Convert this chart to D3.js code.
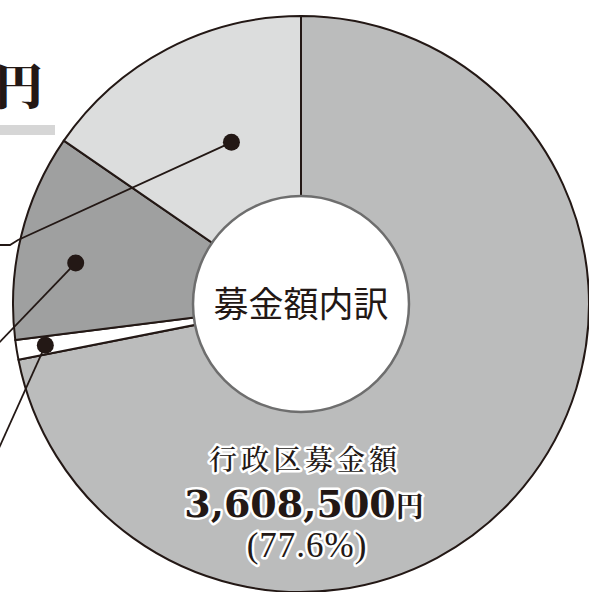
<!DOCTYPE html>
<html>
<head>
<meta charset="utf-8">
<script src="https://cdn.jsdelivr.net/npm/d3@7"></script>
<style>
  html, body { margin: 0; padding: 0; background: #fff; overflow: hidden; }
</style>
</head>
<body>
<div id="chart"></div>
<script>
const categories = ["行政区募金額", "その他", "区分B", "区分A"];
const shares = [71.9, 1.1, 11.6, 15.4];
const colors = ["#bbbcbc", "#ffffff", "#9fa0a0", "#dcdddd"];

// big slice label texts
const mainLabel = "行政区募金額";
const mainAmount = "3,608,500";
const mainUnit = "円";
const mainPct = "(77.6%)";
const centerTitle = "募金額内訳";
const headTitle = "円";

const width = 589, height = 592;
const cx = 301, cy = 304;
const outerR = 288, innerR = 108;
const ink = "#231815";

const svg = d3.select("#chart")
    .append("svg")
    .attr("width", width)
    .attr("height", height);

// header fragment at top left
svg.append("text")
    .attr("x", 43)
    .attr("y", 104)
    .attr("text-anchor", "end")
    .style("font-family", "'Noto Serif CJK JP', 'Noto Sans CJK JP', serif")
    .style("font-weight", "900")
    .style("font-size", "48px")
    .style("fill", ink)
    .text(headTitle);

svg.append("rect")
    .attr("x", 0)
    .attr("y", 125)
    .attr("width", 55)
    .attr("height", 10)
    .attr("fill", "#d6d6d6");

const g = svg.append("g")
    .attr("transform", `translate(${cx},${cy})`);

const pie = d3.pie().sort(null).value(d => d)
    .startAngle(0).endAngle(2 * Math.PI);
const arcs = pie(shares);

const arc = d3.arc().innerRadius(0).outerRadius(outerR);

g.selectAll("path.slice")
    .data(arcs)
    .join("path")
    .attr("class", "slice")
    .attr("d", arc)
    .attr("fill", (d, i) => colors[i])
    .attr("stroke", ink)
    .attr("stroke-width", 2)
    .attr("stroke-linejoin", "round");

// inner hole
g.append("circle")
    .attr("r", innerR)
    .attr("fill", "#fff")
    .attr("stroke", "#6e6e6e")
    .attr("stroke-width", 2.5);

g.append("text")
    .attr("x", 0)
    .attr("y", 13)
    .attr("text-anchor", "middle")
    .style("font-family", "'Noto Sans CJK JP', sans-serif")
    .style("font-size", "35px")
    .style("fill", ink)
    .text(centerTitle);

// leader lines: dot placed at (fraction of slice angle, radius), line runs off to the left
const leaders = [
    { slice: 3, t: 0.58, r: 176, path: [[18, 240], [10, 245], [-5, 245]] },
    { slice: 2, t: 0.42, r: 229, path: [[-5, 347]] },
    { slice: 1, t: 0.5, r: 259, path: [[-5, 457]] }
];

leaders.forEach(l => {
    const a = arcs[l.slice];
    const ang = a.startAngle + (a.endAngle - a.startAngle) * l.t;
    const px = cx + l.r * Math.sin(ang);
    const py = cy - l.r * Math.cos(ang);
    const pts = [[px, py]].concat(l.path);
    svg.append("path")
        .attr("d", d3.line()(pts))
        .attr("fill", "none")
        .attr("stroke", ink)
        .attr("stroke-width", 1.8);
    svg.append("circle")
        .attr("cx", px)
        .attr("cy", py)
        .attr("r", 8.5)
        .attr("fill", ink);
});

// label for the big slice, white halo
const halo = sel => sel
    .style("fill", ink)
    .style("stroke", "#fff")
    .style("stroke-width", "5px")
    .style("stroke-linejoin", "round")
    .style("paint-order", "stroke");

svg.append("text")
    .attr("x", 305)
    .attr("y", 470)
    .attr("text-anchor", "middle")
    .style("font-family", "'Noto Serif CJK JP', 'Noto Sans CJK JP', serif")
    .style("font-weight", "500")
    .style("font-size", "28px")
    .style("letter-spacing", "4px")
    .call(halo)
    .text(mainLabel);

const amt = svg.append("text")
    .attr("x", 304)
    .attr("y", 517)
    .attr("text-anchor", "middle")
    .call(halo);
amt.append("tspan")
    .style("font-family", "'DejaVu Serif', serif")
    .style("font-weight", "bold")
    .style("font-size", "38px")
    .text(mainAmount);
amt.append("tspan")
    .style("font-family", "'Noto Serif CJK JP', 'Noto Sans CJK JP', serif")
    .style("font-weight", "bold")
    .style("font-size", "28px")
    .text(mainUnit);

svg.append("text")
    .attr("x", 307)
    .attr("y", 557)
    .attr("text-anchor", "middle")
    .style("font-family", "'Liberation Serif', serif")
    .style("font-size", "35px")
    .style("letter-spacing", "1px")
    .call(halo)
    .text(mainPct);
</script>
</body>
</html>
